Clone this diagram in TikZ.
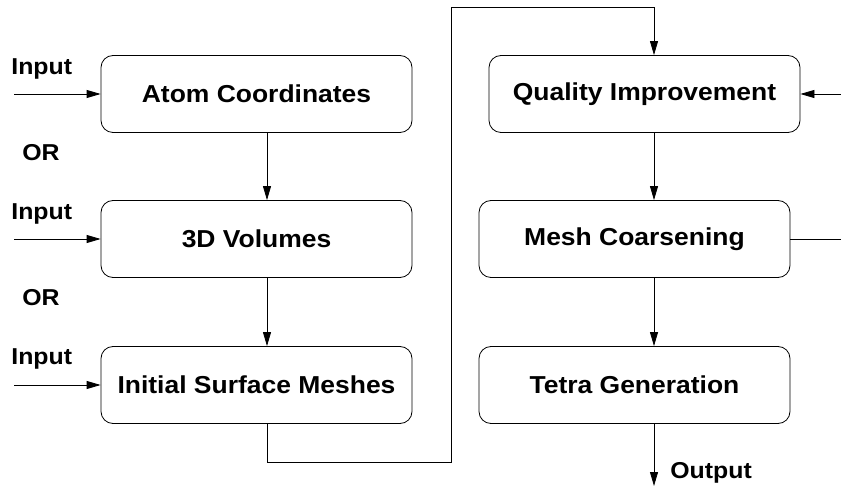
\documentclass[tikz,border=0pt]{standalone}
\usepackage{fontspec}
\newfontfamily\diagfont{Liberation Sans}[FakeStretch=1.08]
\usetikzlibrary{arrows.meta}
\tikzset{
  stage/.style={draw, rounded corners=12pt, minimum width=311pt, minimum height=77pt,
    inner sep=0pt, font=\diagfont\bfseries\fontsize{24.5}{27}\selectfont},
  lbl/.style={inner sep=0pt, anchor=base west, font=\diagfont\bfseries\fontsize{23}{25}\selectfont},
  arr/.style={-{Triangle[length=14pt,width=8pt]}},
}
\begin{document}
\begin{tikzpicture}[x=1pt,y=-1pt,line width=0.8pt]
      \useasboundingbox (0,0) rectangle (841,486);
      \draw
        (256.5,94) node[stage] (atom){Atom Coordinates}
        (256.5,239) node[stage] (vol){3D Volumes}
        (256.5,385) node[stage] (surf){Initial Surface Meshes}
        (644.5,94) node[stage] (qual){Quality Improvement}
        (634.5,239) node[stage] (coarse){Mesh Coarsening}
        (634.5,385) node[stage] (tetra){Tetra Generation};
      \draw
        (11,75) node[lbl] (in1){Input}
        (22,160.7) node[lbl] (or1){OR}
        (11,220) node[lbl] (in2){Input}
        (22,305.7) node[lbl] (or2){OR}
        (11,365) node[lbl] (in3){Input}
        (670,478) node[lbl] (out){Output};
      \coordinate (lx) at (267,0);
      \coordinate (rx) at (654,0);
      \coordinate (s1) at (14,94);
      \coordinate (s2) at (14,239);
      \coordinate (s3) at (14,385);
      \coordinate (b1) at (267,462);
      \coordinate (b2) at (451,462);
      \coordinate (b3) at (451,7);
      \coordinate (b4) at (654,7);
      \coordinate (fb1) at (841,94);
      \coordinate (fb2) at (841,239);
      \coordinate (end) at (654,486);
      \begin{scope}[arr]
        \draw (s1) to (atom);
        \draw (s2) to (vol);
        \draw (s3) to (surf);
        \draw (atom.south -| lx) to (vol.north -| lx);
        \draw (vol.south -| lx) to (surf.north -| lx);
        \draw (surf.south -| lx) -- (b1) -- (b2) -- (b3) -- (b4) -- (qual.north -| rx);
        \draw (qual.south -| rx) to (coarse.north -| rx);
        \draw (coarse.south -| rx) to (tetra.north -| rx);
        \draw (tetra.south -| rx) to (end);
        \draw (fb1) to (qual);
      \end{scope}
      \draw (coarse) -- (fb2);
    \end{tikzpicture}
\end{document}
